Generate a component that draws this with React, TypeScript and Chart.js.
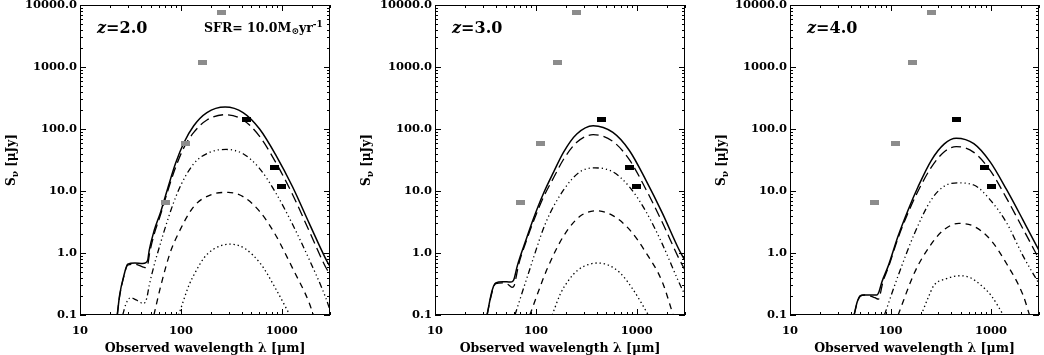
import React, { useEffect, useRef } from "react";
import { Chart, registerables } from "chart.js";

Chart.register(...registerables);

type Pt = [number, number];

// ---------- axis / labels ----------
const xTickValues = [10, 100, 1000];
const yTickValues = [0.1, 1, 10, 100, 1000, 10000];
const redshiftLabels = ["2.0", "3.0", "4.0"];
const sfrLabel = "10.0";

// ---------- observed points (wavelength um, flux uJy) ----------
const greyObs: Pt[] = [[70, 6.5], [111, 59], [164, 1190], [253, 7700]];
const blackObs: Pt[] = [[449, 142], [855, 23.8], [1003, 11.7]];

// ---------- z = 2.0 ----------
const z2Solid: Pt[] = [[23.4, 0.1], [24.7, 0.21], [27.2, 0.43], [29.7, 0.66], [35, 0.69], [41.7, 0.68], [45, 0.7], [47, 0.78], [48.5, 1.1], [54.3, 2.3], [63, 4.6], [73.3, 10.5], [88.5, 28], [107, 60], [134, 113], [181, 184], [274, 226], [413, 184], [602, 100], [875, 37.6], [1276, 11.7], [1858, 3.06], [2705, 0.82], [3000, 0.6]];
const z2LongDash: Pt[] = [[23.4, 0.1], [24.7, 0.2], [27.2, 0.42], [29.7, 0.64], [35, 0.66], [41.7, 0.6], [45, 0.58], [47, 0.66], [49, 1.0], [54.3, 2.0], [63, 4.2], [73.3, 9.5], [88.5, 24], [107, 50], [134, 88], [181, 140], [274, 170], [413, 140], [602, 76], [875, 28.5], [1276, 8.8], [1858, 2.3], [2705, 0.6], [3000, 0.45]];
const z2DashDot: Pt[] = [[26.5, 0.1], [28.5, 0.15], [31.6, 0.19], [36, 0.175], [42.7, 0.153], [46, 0.19], [48.5, 0.3], [63, 1.47], [92, 9.2], [134, 27.6], [195, 42.4], [280, 46.8], [413, 39.8], [602, 23], [875, 9.2], [1276, 2.9], [1858, 0.8], [2705, 0.195], [3000, 0.12]];
const z2Dashed: Pt[] = [[54, 0.1], [63, 0.29], [78, 1.0], [92, 1.9], [134, 5.6], [195, 8.6], [294, 9.5], [413, 8.1], [602, 4.7], [875, 1.9], [1075, 1.0], [1276, 0.57], [1858, 0.16], [2050, 0.1]];
const z2Dotted: Pt[] = [[95, 0.1], [120, 0.3], [140, 0.5], [170, 0.84], [210, 1.15], [306, 1.39], [430, 1.18], [620, 0.66], [875, 0.26], [1200, 0.1]];

// ---------- z = 3.0 ----------
const z3Solid: Pt[] = [[32.8, 0.1], [35.9, 0.21], [38, 0.29], [40, 0.33], [47, 0.345], [56, 0.34], [59, 0.35], [60.7, 0.38], [65.5, 0.625], [79, 1.56], [95, 3.67], [119, 9.2], [150, 20.4], [188, 42.4], [254, 83], [369, 113], [579, 88], [843, 45], [1228, 15], [1790, 4.4], [2606, 1.15], [3000, 0.75]];
const z3LongDash: Pt[] = [[32.8, 0.1], [35.9, 0.2], [38, 0.28], [40, 0.32], [47, 0.33], [53, 0.31], [58, 0.28], [61, 0.3], [63.5, 0.4], [67, 0.62], [79, 1.45], [95, 3.3], [119, 8.0], [150, 16.5], [188, 32.5], [254, 61], [369, 81], [579, 63], [843, 32], [1228, 10.7], [1790, 3.1], [2606, 0.82], [3000, 0.53]];
const z3DashDot: Pt[] = [[62, 0.1], [85, 0.49], [125, 3.06], [188, 10.4], [273, 20.4], [383, 23.6], [579, 20.4], [843, 11.7], [1228, 4.7], [1790, 1.39], [2606, 0.34], [3000, 0.21]];
const z3Dashed: Pt[] = [[87, 0.1], [129, 0.55], [188, 1.88], [273, 3.9], [398, 4.8], [579, 4.0], [843, 2.4], [1228, 1.02], [1790, 0.34], [2290, 0.1]];
const z3Dotted: Pt[] = [[145, 0.1], [175, 0.22], [210, 0.36], [260, 0.53], [330, 0.65], [413, 0.69], [520, 0.64], [680, 0.48], [900, 0.27], [1100, 0.16], [1300, 0.1]];

// ---------- z = 4.0 ----------
const z4Solid: Pt[] = [[43.4, 0.1], [46.7, 0.163], [50, 0.205], [55, 0.21], [65, 0.21], [73, 0.21], [77, 0.24], [82, 0.34], [95, 0.62], [119, 1.88], [150, 5.0], [188, 11.7], [254, 31], [343, 57.5], [450, 71], [674, 58], [980, 29.5], [1429, 10.5], [2080, 3.4], [3000, 1.1]];
const z4LongDash: Pt[] = [[43.4, 0.1], [46.7, 0.16], [50, 0.2], [55, 0.21], [62, 0.205], [70, 0.19], [76, 0.18], [78, 0.2], [84, 0.34], [95, 0.58], [119, 1.75], [150, 4.5], [188, 10], [254, 24], [343, 43], [450, 52], [674, 42], [980, 21.5], [1429, 7.6], [2080, 2.45], [3000, 0.8]];
const z4DashDot: Pt[] = [[87, 0.1], [119, 0.43], [174, 2.1], [254, 7.2], [343, 12], [462, 13.5], [674, 12.5], [980, 7.2], [1429, 3.06], [2080, 0.9], [3000, 0.32]];
const z4Dashed: Pt[] = [[119, 0.1], [174, 0.49], [254, 1.39], [343, 2.4], [479, 3.0], [674, 2.7], [980, 1.66], [1429, 0.67], [2080, 0.21], [2415, 0.1]];
const z4Dotted: Pt[] = [[202, 0.1], [240, 0.2], [270, 0.3], [350, 0.38], [498, 0.43], [620, 0.4], [800, 0.3], [1016, 0.2], [1324, 0.1]];

const panelCurves: Pt[][][] = [
  [z2Solid, z2LongDash, z2DashDot, z2Dashed, z2Dotted],
  [z3Solid, z3LongDash, z3DashDot, z3Dashed, z3Dotted],
  [z4Solid, z4LongDash, z4DashDot, z4Dashed, z4Dotted],
];

const dashStyles: number[][] = [
  [],
  [10, 5],
  [6, 3, 1.2, 3, 1.2, 3, 1.2, 3],
  [6, 5],
  [1.4, 2.8],
];

const GREY = "#8c8c8c";
const SERIF = '"DejaVu Serif", serif';
const PANEL_LEFT = [0, 355, 710];
const PANEL_W = [335, 335, 334];
const H = 355;

function rectMarker(w: number, h: number, color: string) {
  const c = document.createElement("canvas");
  c.width = w;
  c.height = h;
  const g = c.getContext("2d")!;
  g.fillStyle = color;
  g.fillRect(0, 0, w, h);
  return c;
}

const toXY = (pts: Pt[]) => pts.map(([x, y]) => ({ x, y }));

function makePlugin(panel: number) {
  return {
    id: "idlFrame" + panel,
    afterDatasetsDraw(chart: any) {
      const { ctx, chartArea: a, scales } = chart;
      const xs = scales.x;
      const ys = scales.y;
      ctx.save();
      ctx.strokeStyle = "#000";
      ctx.lineWidth = 1;
      ctx.strokeRect(a.left + 0.5, a.top + 0.5, a.right - a.left - 1, a.bottom - a.top - 1);
      ctx.beginPath();
      for (let k = 1; k <= 3; k++) {
        for (let m = 1; m <= 9; m++) {
          const v = m * Math.pow(10, k);
          if (v < 10 || v > 3000) continue;
          const px = Math.round(xs.getPixelForValue(v)) + 0.5;
          const len = m === 1 ? 6 : 3;
          ctx.moveTo(px, a.bottom);
          ctx.lineTo(px, a.bottom - len);
          ctx.moveTo(px, a.top);
          ctx.lineTo(px, a.top + len);
        }
      }
      for (let k = -1; k <= 4; k++) {
        for (let m = 1; m <= 9; m++) {
          const v = m * Math.pow(10, k);
          if (v < 0.1 || v > 10000) continue;
          const py = Math.round(ys.getPixelForValue(v)) + 0.5;
          const len = m === 1 ? 6 : 3;
          ctx.moveTo(a.left, py);
          ctx.lineTo(a.left + len, py);
          ctx.moveTo(a.right, py);
          ctx.lineTo(a.right - len, py);
        }
      }
      ctx.stroke();

      // tick labels
      ctx.fillStyle = "#000";
      ctx.font = "bold 11.5px " + SERIF;
      ctx.textAlign = "right";
      ctx.textBaseline = "middle";
      yTickValues.forEach((v) => {
        ctx.fillText(v.toFixed(1), a.left - 3, ys.getPixelForValue(v));
      });
      ctx.textAlign = "center";
      ctx.textBaseline = "alphabetic";
      xTickValues.forEach((v) => {
        ctx.fillText(String(v), xs.getPixelForValue(v), 334);
      });

      // x title
      ctx.font = "bold 12.5px " + SERIF;
      ctx.fillText("Observed wavelength \u03bb [\u03bcm]", (a.left + a.right) / 2, 352);

      // y title (rotated)
      ctx.save();
      ctx.translate(15, (a.top + a.bottom) / 2);
      ctx.rotate(-Math.PI / 2);
      ctx.textAlign = "left";
      const partS = "S";
      const partNu = "\u03bd";
      const partRest = " [\u03bcJy]";
      ctx.font = "bold 12px " + SERIF;
      const wS = ctx.measureText(partS).width;
      const wR = ctx.measureText(partRest).width;
      ctx.font = "bold 9px " + SERIF;
      const wN = ctx.measureText(partNu).width;
      let x0 = -(wS + wN + wR) / 2;
      ctx.font = "bold 12px " + SERIF;
      ctx.fillText(partS, x0, 0);
      x0 += wS;
      ctx.font = "bold 9px " + SERIF;
      ctx.fillText(partNu, x0, 3);
      x0 += wN;
      ctx.font = "bold 12px " + SERIF;
      ctx.fillText(partRest, x0, 0);
      ctx.restore();

      // z label
      ctx.textAlign = "left";
      let zx = a.left + 17;
      ctx.font = "italic bold 16px " + SERIF;
      ctx.fillText("z", zx, 33);
      zx += ctx.measureText("z").width;
      ctx.font = "bold 16px " + SERIF;
      ctx.fillText("=" + redshiftLabels[panel], zx, 33);

      if (panel === 0) {
        let sx = 204;
        ctx.font = "bold 12.5px " + SERIF;
        const t1 = "SFR= " + sfrLabel + "M";
        ctx.fillText(t1, sx, 32);
        sx += ctx.measureText(t1).width;
        ctx.font = "bold 9px " + SERIF;
        ctx.fillText("\u2299", sx, 34);
        sx += ctx.measureText("\u2299").width;
        ctx.font = "bold 12.5px " + SERIF;
        ctx.fillText("yr", sx, 32);
        sx += ctx.measureText("yr").width;
        ctx.font = "bold 9px " + SERIF;
        ctx.fillText("-1", sx, 27);
      }
      ctx.restore();
    },
  };
}

function Panel({ index }: { index: number }) {
  const ref = useRef<HTMLCanvasElement | null>(null);
  useEffect(() => {
    const canvas = ref.current;
    if (!canvas) return;
    const greyMark = rectMarker(9, 5, GREY);
    const blackMark = rectMarker(9, 5, "#000");
    const curves = panelCurves[index];
    const datasets: any[] = [
      {
        data: toXY(blackObs),
        showLine: false,
        pointStyle: blackMark,
        pointRadius: 5,
        borderWidth: 0,
      },
      {
        data: toXY(greyObs),
        showLine: false,
        pointStyle: greyMark,
        pointRadius: 5,
        borderWidth: 0,
      },
      ...curves.map((c, i) => ({
        data: toXY(c),
        borderColor: "#000",
        borderWidth: i === 0 ? 1.5 : 1.3,
        borderDash: dashStyles[i],
        pointRadius: 0,
        fill: false,
        cubicInterpolationMode: "monotone",
      })),
    ];
    const chart = new Chart(canvas, {
      type: "line",
      data: { datasets },
      options: {
        animation: false,
        responsive: false,
        devicePixelRatio: 1,
        events: [],
        layout: { padding: { left: 0, right: PANEL_W[index] - 333, top: 1, bottom: 0 } },
        plugins: { legend: { display: false }, tooltip: { enabled: false } },
        scales: {
          x: {
            type: "logarithmic",
            min: 10,
            max: 3000,
            grid: { display: false, drawTicks: false },
            border: { display: false },
            ticks: { display: false },
            afterFit: (s: any) => {
              s.height = 40;
              s.paddingLeft = 0;
              s.paddingRight = 0;
            },
          },
          y: {
            type: "logarithmic",
            min: 0.1,
            max: 10000,
            grid: { display: false, drawTicks: false },
            border: { display: false },
            ticks: { display: false },
            afterFit: (s: any) => {
              s.width = 80;
              s.paddingTop = 0;
              s.paddingBottom = 0;
            },
          },
        },
      } as any,
      plugins: [makePlugin(index)],
    });
    return () => chart.destroy();
  }, [index]);
  return (
    <div style={{ position: "absolute", left: PANEL_LEFT[index], top: 0, width: PANEL_W[index], height: H }}>
      <canvas ref={ref} width={PANEL_W[index]} height={H} style={{ display: "block" }} />
    </div>
  );
}

export default function App() {
  return (
    <div
      style={{
        position: "absolute",
        left: 0,
        top: 0,
        width: 1044,
        height: H,
        overflow: "hidden",
        background: "#fff",
      }}
    >
      {[0, 1, 2].map((i) => (
        <Panel key={i} index={i} />
      ))}
    </div>
  );
}
